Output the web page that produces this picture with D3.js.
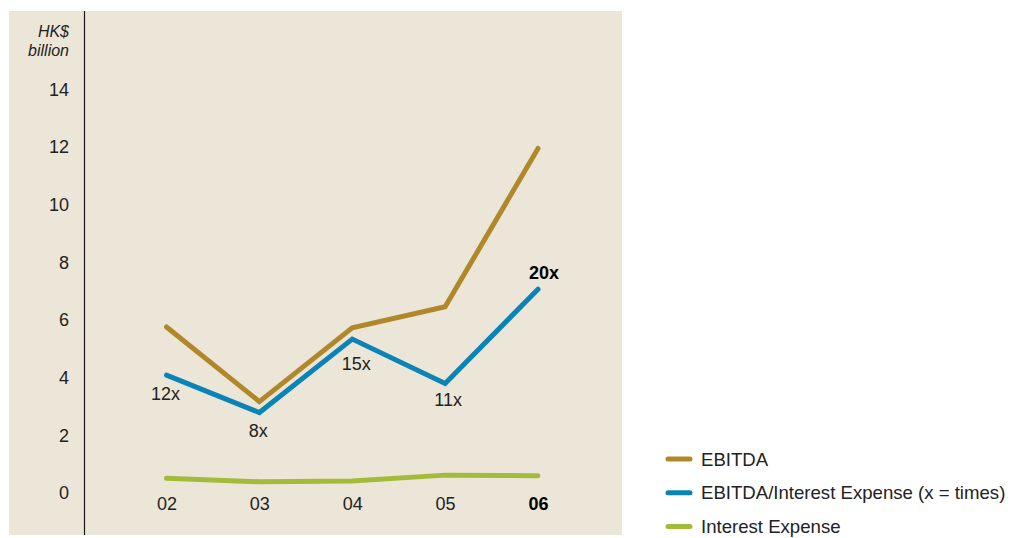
<!DOCTYPE html>
<html>
<head>
<meta charset="utf-8">
<script src="https://cdn.jsdelivr.net/npm/d3@7"></script>
<style>
  html, body { margin: 0; padding: 0; background: #ffffff; }
  svg { display: block; font-family: "Liberation Sans", Arial, sans-serif; }
</style>
</head>
<body>
<svg id="chart" width="1013" height="538"></svg>
<script>
// Financial years (two-digit labels)
const years = ["02", "03", "04", "05", "06"];
// EBITDA, HK$ billion
const ebitda = [5.76, 3.17, 5.73, 6.46, 11.95];
// EBITDA / interest expense, plotted on the same scale
const coverage = [4.09, 2.79, 5.34, 3.80, 7.07];
// Coverage multiples as printed
const coverageLabels = ["12x", "8x", "15x", "11x", "20x"];
// Interest expense, HK$ billion
const interest = [0.51, 0.39, 0.42, 0.62, 0.60];
// Y axis ticks
const yTicks = [0, 2, 4, 6, 8, 10, 12, 14];
// Legend entries
const legendNames = ["EBITDA", "EBITDA/Interest Expense (x = times)", "Interest Expense"];

const colors = { ebitda: "#b0882a", coverage: "#0a84b6", interest: "#a3bb3a" };

const svg = d3.select("#chart");

// Beige panel
svg.append("rect")
  .attr("x", 9).attr("y", 11).attr("width", 613).attr("height", 524)
  .attr("fill", "#ece6d8");

const x = d3.scalePoint().domain(years).range([166.5, 538]);
const y = d3.scaleLinear().domain([0, 14]).range([493, 89.4]);

// Vertical axis rule
svg.append("line")
  .attr("x1", 84.5).attr("x2", 84.5).attr("y1", 11).attr("y2", 535)
  .attr("stroke", "#1a1a1a").attr("stroke-width", 1.2);

// Y axis tick labels
const yAxis = d3.axisLeft(y).tickValues(yTicks).tickSize(0).tickPadding(0);
const gy = svg.append("g").attr("transform", "translate(69,0)").call(yAxis);
gy.select(".domain").remove();
gy.selectAll("text")
  .attr("font-size", 18).attr("fill", "#222").attr("font-family", "Liberation Sans, Arial, sans-serif");

// Unit label
const unit = svg.append("text")
  .attr("x", 69).attr("text-anchor", "end")
  .attr("font-size", 16).attr("font-style", "italic").attr("fill", "#222");
unit.append("tspan").attr("x", 69).attr("y", 37).text("HK$");
unit.append("tspan").attr("x", 69).attr("y", 56).text("billion");

// X axis labels
const xAxis = d3.axisBottom(x).tickSize(0).tickPadding(0);
const gx = svg.append("g").attr("transform", "translate(0,497)").call(xAxis);
gx.select(".domain").remove();
gx.selectAll("text")
  .attr("font-size", 18).attr("font-family", "Liberation Sans, Arial, sans-serif")
  .attr("font-weight", d => d === "06" ? "bold" : "normal")
  .attr("fill", d => d === "06" ? "#000" : "#222");

const line = d3.line().x((d, i) => x(years[i])).y(d => y(d));

function drawSeries(values, color) {
  svg.append("path")
    .attr("d", line(values))
    .attr("fill", "none")
    .attr("stroke", color)
    .attr("stroke-width", 5)
    .attr("stroke-linecap", "round")
    .attr("stroke-linejoin", "miter");
}

drawSeries(interest, colors.interest);
drawSeries(coverage, colors.coverage);
drawSeries(ebitda, colors.ebitda);

// Coverage multiple labels
const labelOffsets = [[-1, 25], [-1, 24], [4, 31], [3, 23], [6, -10]];
svg.selectAll(".cov-label")
  .data(coverage)
  .enter().append("text")
  .attr("class", "cov-label")
  .attr("x", (d, i) => x(years[i]) + labelOffsets[i][0])
  .attr("y", (d, i) => y(d) + labelOffsets[i][1])
  .attr("text-anchor", "middle")
  .attr("font-size", 18)
  .attr("font-weight", (d, i) => i === years.length - 1 ? "bold" : "normal")
  .attr("fill", (d, i) => i === years.length - 1 ? "#000" : "#222")
  .text((d, i) => coverageLabels[i]);

// Legend
const legendColors = [colors.ebitda, colors.coverage, colors.interest];
const legend = svg.append("g");
legendNames.forEach((name, i) => {
  const ly = 459 + i * 33.8;
  legend.append("line")
    .attr("x1", 668).attr("x2", 690).attr("y1", ly).attr("y2", ly)
    .attr("stroke", legendColors[i]).attr("stroke-width", 5).attr("stroke-linecap", "round");
  legend.append("text")
    .attr("x", 701).attr("y", ly + 6.5)
    .attr("font-size", 18.6).attr("fill", "#222")
    .text(name);
});
</script>
</body>
</html>
